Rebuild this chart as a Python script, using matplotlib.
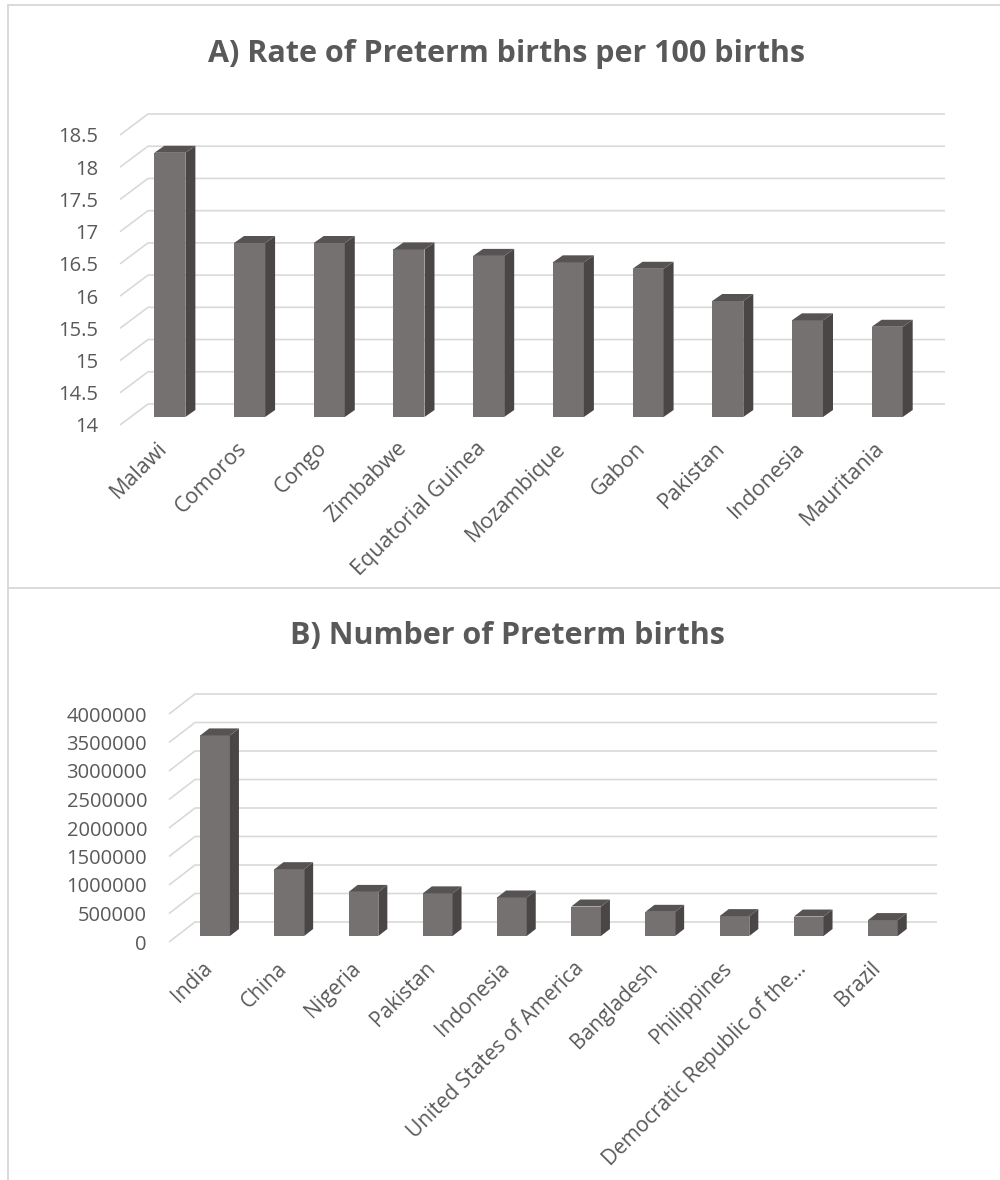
import numpy as np
import matplotlib
matplotlib.use("Agg")
import matplotlib.pyplot as plt
from matplotlib.patches import Polygon
from matplotlib.lines import Line2D
from matplotlib.transforms import offset_copy

# Panel A: preterm birth rate per 100 births
rate_countries = ["Malawi", "Comoros", "Congo", "Zimbabwe", "Equatorial Guinea",
                  "Mozambique", "Gabon", "Pakistan", "Indonesia", "Mauritania"]
rate_values = [18.1, 16.7, 16.7, 16.6, 16.5, 16.4, 16.3, 15.8, 15.5, 15.4]
rate_ticks = [14, 14.5, 15, 15.5, 16, 16.5, 17, 17.5, 18, 18.5]
rate_tick_labels = ["14", "14.5", "15", "15.5", "16", "16.5", "17", "17.5", "18", "18.5"]

# Panel B: number of preterm births
count_countries = ["India", "China", "Nigeria", "Pakistan", "Indonesia",
                   "United States of America", "Bangladesh", "Philippines",
                   "Democratic Republic of the\u2026", "Brazil"]
count_values = [3519100, 1172300, 773600, 748100, 675700,
                517400, 424100, 348900, 341400, 279300]
count_ticks = [0, 500000, 1000000, 1500000, 2000000, 2500000, 3000000, 3500000, 4000000]
count_tick_labels = ["0", "500000", "1000000", "1500000", "2000000",
                     "2500000", "3000000", "3500000", "4000000"]

W, H = 1000, 1180
FRONT = "#767171"
SIDE = "#4b4646"
TOP = "#585353"
GRID = "#d9d9d9"
TEXT = "#595959"
FONT = "Open Sans"

plt.rcParams["font.family"] = [FONT, "DejaVu Sans"]

fig = plt.figure(figsize=(W / 100, H / 100), dpi=100)


def panel(names, values, ticks, tick_labels, ylim, box, wall, front, depth,
          width, label_off, label_size, title, title_base):
    left_px, right_px, base_px, top_px = box
    ax = fig.add_axes([left_px / W, 1 - base_px / H,
                       (right_px - left_px) / W, (base_px - top_px) / H])
    n = len(names)
    x0, x1 = -0.5, n - 0.5
    ax.set_xlim(x0, x1)
    ax.set_ylim(*ylim)
    ax.patch.set_visible(False)
    for s in ax.spines.values():
        s.set_visible(False)

    # data units per pixel, used for the oblique depth offsets
    sx = (x1 - x0) / (right_px - left_px)
    sy = (ylim[1] - ylim[0]) / (base_px - top_px)

    # back wall gridlines with their receding side edges
    wdx, wdy = wall[0] * sx, wall[1] * sy
    for t in ticks:
        ax.plot([x0, x0 + wdx, x1 + wdx], [t, t + wdy, t + wdy], color=GRID,
                lw=1.2, clip_on=False, zorder=1, solid_capstyle="butt")

    # 3-D looking columns: front face, right side and top
    fdx, fdy = front[0] * sx, front[1] * sy
    ddx, ddy = depth[0] * sx, depth[1] * sy
    base = ylim[0]
    xs = np.arange(n)
    vals = np.asarray(values, dtype=float)
    ax.bar(xs + fdx, vals - base, bottom=base + fdy, width=width,
           color=FRONT, zorder=3, clip_on=False, linewidth=0)
    for x, v in zip(xs, vals):
        xl = x + fdx - width / 2
        xr = x + fdx + width / 2
        yb = base + fdy
        yt = v + fdy
        ax.add_patch(Polygon([(xr, yb), (xr + ddx, yb + ddy),
                              (xr + ddx, yt + ddy), (xr, yt)],
                             closed=True, facecolor=SIDE, edgecolor="none",
                             zorder=3, clip_on=False))
        ax.add_patch(Polygon([(xl, yt), (xr, yt), (xr + ddx, yt + ddy),
                              (xl + ddx, yt + ddy)],
                             closed=True, facecolor=TOP, edgecolor="none",
                             zorder=3, clip_on=False))

    # value axis labels
    ax.set_xticks([])
    ax.set_yticks(ticks)
    ax.set_yticklabels(tick_labels, fontsize=14.5, color=TEXT)
    ax.tick_params(axis="y", length=0, pad=22 * 72 / 100)

    # rotated category labels
    tr = offset_copy(ax.transData, fig=fig, x=label_off[0], y=-label_off[1],
                     units="dots")
    for x, name in zip(xs, names):
        ax.text(x, base, name, transform=tr, rotation=45, ha="right",
                va="top", rotation_mode="anchor", fontsize=label_size,
                color=TEXT)

    fig.text(0.507, 1 - title_base / H, title, ha="center", va="baseline",
             fontsize=22, fontweight="bold", color=TEXT)
    return ax


panel(rate_countries, rate_values, rate_ticks, rate_tick_labels, (14, 18.5),
      box=(120, 917, 425, 135), wall=(28, 21), front=(10, 8), depth=(10, 7),
      width=0.39, label_off=(-3, 13), label_size=15.5,
      title="A) Rate of Preterm births per 100 births", title_base=62)

panel(count_countries, count_values, count_ticks, count_tick_labels,
      (0, 4000000),
      box=(169, 911, 942, 714), wall=(26, 20), front=(9, 6), depth=(9, 7),
      width=0.40, label_off=(-4, 16), label_size=15,
      title="B) Number of Preterm births", title_base=644)

# chart frames
frame = dict(color="#d9d9d9", lw=1.4, transform=fig.transFigure)
fig.add_artist(Line2D([8 / W, 1], [1 - 5 / H, 1 - 5 / H], **frame))
fig.add_artist(Line2D([8 / W, 8 / W], [1 - 5 / H, 0], **frame))
fig.add_artist(Line2D([8 / W, 1], [1 - 588 / H, 1 - 588 / H], **frame))

fig.savefig("out.png", dpi=100, facecolor="white")
